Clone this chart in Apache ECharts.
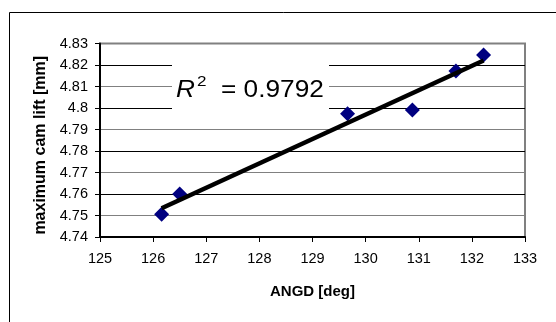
<!DOCTYPE html>
<html>
<head>
<meta charset="utf-8">
<script src="https://cdn.jsdelivr.net/npm/echarts@6/dist/echarts.min.js"></script>
<style>html,body{margin:0;padding:0;background:#fff;}#c{width:556px;height:322px;}</style>
</head>
<body>
<div id="c"></div>
<script>
const angd = [126.16, 126.5, 129.66, 130.88, 131.7, 132.22];
const camLift = [4.7506, 4.760, 4.7973, 4.7991, 4.8172, 4.8247];
const xTicks = [125, 126, 127, 128, 129, 130, 131, 132, 133];
const yTicks = [4.74, 4.75, 4.76, 4.77, 4.78, 4.79, 4.8, 4.81, 4.82, 4.83];
const r2Text = '0.9792';

// linear least-squares trend line
const n = angd.length;
const mx = angd.reduce((a, b) => a + b, 0) / n;
const my = camLift.reduce((a, b) => a + b, 0) / n;
let sxy = 0, sxx = 0;
for (let i = 0; i < n; i++) { sxy += (angd[i] - mx) * (camLift[i] - my); sxx += (angd[i] - mx) ** 2; }
const slope = sxy / sxx, icpt = my - slope * mx;
const xMin = Math.min(...angd), xMax = Math.max(...angd);
const trend = [[xMin, icpt + slope * xMin], [xMax, icpt + slope * xMax]];

const chart = echarts.init(document.getElementById('c'), null, {renderer: 'canvas'});
const font = 'Liberation Sans, Arial, sans-serif';
chart.setOption({
  animation: false,
  backgroundColor: '#fff',
  grid: {left: 100, right: 31, top: 43.5, bottom: 85, show: true, borderColor: '#808080', borderWidth: 2, backgroundColor: '#fff'},
  xAxis: {
    type: 'value', min: xTicks[0], max: xTicks[xTicks.length - 1], interval: 1,
    name: 'ANGD [deg]', nameLocation: 'middle', nameGap: 47,
    nameTextStyle: {fontFamily: font, fontWeight: 'bold', fontSize: 15, color: '#000'},
    axisLine: {show: true, onZero: false, lineStyle: {color: '#000', width: 2}},
    axisTick: {show: true, inside: false, length: 5, lineStyle: {color: '#000', width: 1}},
    axisLabel: {fontFamily: font, fontSize: 14.5, color: '#000', margin: 14},
    splitLine: {show: false}
  },
  yAxis: {
    type: 'value', min: yTicks[0], max: yTicks[yTicks.length - 1], interval: 0.01,
    name: 'maximum cam lift [mm]', nameLocation: 'middle', nameGap: 49, nameRotate: 90,
    nameTextStyle: {fontFamily: font, fontWeight: 'bold', fontSize: 16, color: '#000', padding: [0, 10, 0, 0]},
    axisLine: {show: true, onZero: false, lineStyle: {color: '#000', width: 2}},
    axisTick: {show: true, inside: false, length: 5, lineStyle: {color: '#000', width: 1}},
    axisLabel: {fontFamily: font, fontSize: 14.5, color: '#000', margin: 12,
      formatter: v => String(parseFloat(v.toFixed(2)))},
    splitLine: {show: true, lineStyle: {color: ['#000', '#808080'], width: 1}}
  },
  series: [
    {type: 'scatter', data: angd.map((x, i) => [x, camLift[i]]), symbol: 'diamond', symbolSize: 15,
     itemStyle: {color: '#000080', opacity: 1}, z: 3},
    {type: 'line', data: trend, showSymbol: false, symbol: 'none', lineStyle: {color: '#000', width: 4.5}, z: 4}
  ],
  graphic: [
    {type: 'rect', left: 7, top: 10, shape: {width: 560, height: 330}, style: {fill: 'none', stroke: '#000', lineWidth: 1}, z: 100, silent: true},
    {type: 'rect', left: 172, top: 57, shape: {width: 157, height: 57}, style: {fill: '#fff'}, z: 50},
    {type: 'text', x: 176, y: 91, scaleX: 1.14, z: 51,
     style: {text: 'R', x: 0, y: 0, fontFamily: font, fontStyle: 'italic', fontSize: 23, fill: '#000', verticalAlign: 'middle', align: 'left'}},
    {type: 'text', x: 197, y: 82, scaleX: 1.14, z: 51,
     style: {text: '2', x: 0, y: 0, fontFamily: font, fontSize: 15, fill: '#000', verticalAlign: 'middle', align: 'left'}},
    {type: 'text', x: 221, y: 91, scaleX: 1.14, z: 51,
     style: {text: '= ' + r2Text, x: 0, y: 0, fontFamily: font, fontSize: 23, fill: '#000', verticalAlign: 'middle', align: 'left'}}
  ]
});
</script>
</body>
</html>
